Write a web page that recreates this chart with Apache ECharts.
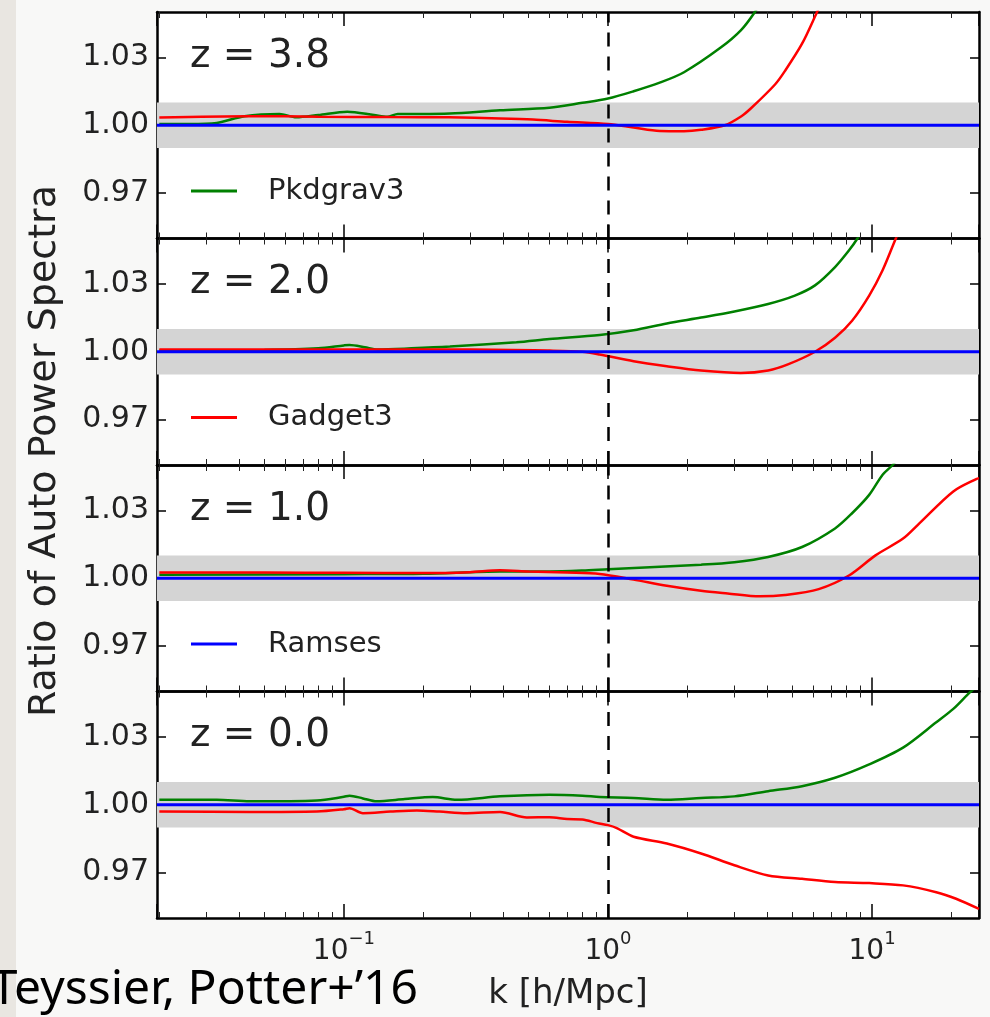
<!DOCTYPE html>
<html>
<head>
<meta charset="utf-8">
<script src="https://cdn.jsdelivr.net/npm/echarts@6/dist/echarts.min.js"></script>
<style>
  html, body { margin: 0; padding: 0; background: #f8f8f7; }
  #main { width: 990px; height: 1017px; }
</style>
</head>
<body>
<div id="main"></div>
<script>
// panel labels / axis ticks
const panelTitles = ['z = 3.8', 'z = 2.0', 'z = 1.0', 'z = 0.0'];
const yTicks = [0.97, 1.00, 1.03];
const kRange = [0.0196, 25.4];

// z = 3.8
const pk38K = [0.02, 0.026, 0.033, 0.042, 0.057, 0.066, 0.08, 0.103, 0.13, 0.146, 0.16, 0.194, 0.252, 0.39, 0.6, 0.8, 1.0, 1.25, 1.57, 1.94, 2.68, 3.19, 3.6, 3.8];
const pk38V = [1.0005, 1.0005, 1.001, 1.004, 1.005, 1.0035, 1.0045, 1.006, 1.0045, 1.0037, 1.005, 1.005, 1.0052, 1.0066, 1.0077, 1.0099, 1.0118, 1.015, 1.0188, 1.0234, 1.0344, 1.042, 1.05, 1.055];
const ga38K = [0.02, 0.044, 0.08, 0.15, 0.25, 0.39, 0.52, 0.7, 1.0, 1.25, 1.57, 1.94, 2.25, 2.77, 3.2, 3.48, 4.29, 4.68, 5.43, 6.19, 6.6];
const ga38V = [1.0034, 1.004, 1.0038, 1.0036, 1.0035, 1.003, 1.0025, 1.0015, 1.0005, 0.999, 0.9975, 0.9974, 0.998, 1.000, 1.004, 1.0075, 1.018, 1.024, 1.036, 1.05, 1.057];

// z = 2.0
const pk20K = [0.02, 0.05, 0.08, 0.1, 0.105, 0.12, 0.134, 0.18, 0.252, 0.45, 0.6, 0.93, 1.25, 1.67, 2.25, 3.01, 4.04, 5.1, 6.08, 7.24, 8.18, 8.8, 9.3];
const pk20V = [1.0005, 1.0008, 1.0015, 1.0028, 1.003, 1.002, 1.001, 1.0015, 1.0023, 1.0042, 1.0056, 1.0074, 1.0095, 1.0125, 1.0151, 1.0178, 1.0211, 1.0248, 1.0293, 1.0374, 1.0448, 1.05, 1.055];
const ga20K = [0.02, 0.1, 0.3, 0.6, 0.8, 0.93, 1.25, 1.67, 2.25, 3.18, 4.04, 4.8, 6.08, 7.24, 8.4, 9.75, 10.96, 12.3, 13];
const ga20V = [1.001, 1.001, 1.001, 1.0005, 1.000, 0.9988, 0.9958, 0.9936, 0.9917, 0.9906, 0.9917, 0.9944, 1.000, 1.0062, 1.0137, 1.0248, 1.036, 1.05, 1.056];

// z = 1.0
const pk10K = [0.02, 0.1, 0.2, 0.39, 0.6, 0.8, 1.0, 1.44, 2.25, 3.01, 4.04, 5.43, 7.24, 8.4, 9.75, 10.96, 11.96, 12.5];
const pk10V = [1.0015, 1.0018, 1.002, 1.003, 1.003, 1.0034, 1.004, 1.0049, 1.006, 1.0071, 1.0094, 1.0138, 1.022, 1.0287, 1.0368, 1.0457, 1.05, 1.053];
const ga10K = [0.02, 0.05, 0.1, 0.2, 0.3, 0.39, 0.5, 0.7, 0.93, 1.25, 1.67, 2.25, 2.84, 3.76, 4.68, 6.28, 8.17, 10.3, 13.1, 15.1, 20.3, 24.9, 25.4];
const ga10V = [1.0025, 1.0025, 1.0024, 1.0023, 1.0027, 1.0035, 1.003, 1.0025, 1.0019, 0.9994, 0.9967, 0.9945, 0.9933, 0.992, 0.9926, 0.9952, 1.0012, 1.0101, 1.0175, 1.0242, 1.0383, 1.0439, 1.0442];

// z = 0.0
const pk00K = [0.02, 0.033, 0.044, 0.079, 0.1, 0.105, 0.118, 0.133, 0.17, 0.217, 0.268, 0.39, 0.6, 0.8, 0.93, 1.25, 1.67, 2.25, 3.01, 4.04, 5.43, 7.24, 9.75, 13.1, 17.5, 20.3, 23.5, 25.4];
const pk00V = [1.0022, 1.0022, 1.0015, 1.0019, 1.0035, 1.004, 1.0028, 1.0015, 1.0025, 1.0034, 1.0022, 1.0037, 1.0044, 1.004, 1.0034, 1.003, 1.0022, 1.003, 1.0037, 1.006, 1.0082, 1.0119, 1.0178, 1.0252, 1.0364, 1.0423, 1.0497, 1.053];
const ga00K = [0.02, 0.044, 0.079, 0.1, 0.105, 0.118, 0.15, 0.189, 0.23, 0.292, 0.39, 0.493, 0.6, 0.7, 0.8, 0.91, 1.0, 1.08, 1.25, 1.67, 2.25, 3.01, 4.04, 5.43, 7.24, 9.75, 13.1, 17.5, 20.8, 25.4];
const ga00V = [0.997, 0.9968, 0.997, 0.998, 0.9985, 0.9963, 0.997, 0.9975, 0.997, 0.9963, 0.9968, 0.9944, 0.9945, 0.9937, 0.9935, 0.9919, 0.991, 0.9897, 0.9859, 0.9829, 0.9785, 0.9733, 0.9688, 0.9673, 0.9659, 0.9654, 0.9644, 0.9614, 0.9585, 0.954];

// Ramses is the reference run
const raK = [0.0196, 25.4];
const raV = [1.0, 1.0];
const band = [0.99, 1.01];

const pkd = [[pk38K, pk38V], [pk20K, pk20V], [pk10K, pk10V], [pk00K, pk00V]];
const gad = [[ga38K, ga38V], [ga20K, ga20V], [ga10K, ga10V], [ga00K, ga00V]];
const legendNames = ['Pkdgrav3', 'Gadget3', 'Ramses'];
const colors = { Pkdgrav3: '#008000', Gadget3: '#ff0000', Ramses: '#0000ff' };

function zip(k, v) { return k.map((x, i) => [x, v[i]]); }

const L = 157, R = 11, T = 12, H = 226.5;
const FONT = 'DejaVu Sans';
let grids = [], xAxes = [], yAxes = [], series = [], legends = [], graphics = [];

for (let i = 0; i < 4; i++) {
  grids.push({ left: L, right: R, top: T + i * H, height: H, show: true, backgroundColor: '#fff', borderWidth: 0, outerBoundsMode: 'none' });

  ['bottom', 'top'].forEach(function (pos) {
    xAxes.push({
      type: 'log', logBase: 10, gridIndex: i, position: pos,
      min: kRange[0], max: kRange[1],
      axisLine: { show: true, onZero: false, lineStyle: { color: '#000', width: 2.5 } },
      axisTick: { show: true, inside: true, length: 14, lineStyle: { color: '#000', width: 1.5 } },
      minorTick: { show: true, splitNumber: 9, length: 6, lineStyle: { color: '#222', width: 1 } },
      splitLine: { show: false },
      axisLabel: {
        show: i === 3 && pos === 'bottom', margin: 12,
        formatter: function (v) {
          const e = Math.log10(v), r = Math.round(e);
          if (Math.abs(e - r) > 1e-6) return '';
          return '{b|10}{s|' + (r < 0 ? '\u2212' + (-r) : r) + '}';
        },
        rich: {
          b: { fontFamily: FONT, fontSize: 28, color: '#222', lineHeight: 36, verticalAlign: 'bottom' },
          s: { fontFamily: FONT, fontSize: 18, color: '#222', lineHeight: 18, verticalAlign: 'top' }
        }
      },
      name: (i === 3 && pos === 'bottom') ? 'k [h/Mpc]' : '',
      nameLocation: 'middle', nameGap: 59,
      nameTextStyle: { fontFamily: FONT, fontSize: 34, color: '#222' }
    });
  });

  ['left', 'right'].forEach(function (pos) {
    yAxes.push({
      type: 'value', gridIndex: i, position: pos, min: 0.95, max: 1.05,
      axisLine: { show: true, onZero: false, lineStyle: { color: '#000', width: 2.5 } },
      axisTick: { show: true, inside: true, length: 9, customValues: yTicks, lineStyle: { color: '#000', width: 1.5 } },
      splitLine: { show: false },
      axisLabel: {
        show: pos === 'left', customValues: yTicks, margin: 8,
        fontFamily: FONT, fontSize: 30, color: '#222',
        formatter: function (v) { return v.toFixed(2); }
      }
    });
  });

  const xi = i * 2, yi = i * 2;
  // grey +/-1% band
  series.push({
    type: 'line', xAxisIndex: xi, yAxisIndex: yi, z: 1, silent: true,
    data: zip(raK, raV), showSymbol: false, lineStyle: { width: 0, opacity: 0 },
    markArea: { silent: true, itemStyle: { color: '#d4d4d4' }, data: [[{ yAxis: band[0] }, { yAxis: band[1] }]] }
  });
  series.push({
    name: 'Pkdgrav3', type: 'line', xAxisIndex: xi, yAxisIndex: yi, z: 3,
    data: zip(pkd[i][0], pkd[i][1]), showSymbol: false, smooth: 0.3,
    lineStyle: { color: colors.Pkdgrav3, width: 2.5 }, itemStyle: { color: colors.Pkdgrav3 }
  });
  series.push({
    name: 'Gadget3', type: 'line', xAxisIndex: xi, yAxisIndex: yi, z: 3,
    data: zip(gad[i][0], gad[i][1]), showSymbol: false, smooth: 0.3,
    lineStyle: { color: colors.Gadget3, width: 2.5 }, itemStyle: { color: colors.Gadget3 }
  });
  series.push({
    name: 'Ramses', type: 'line', xAxisIndex: xi, yAxisIndex: yi, z: 4,
    data: zip(raK, raV), showSymbol: false,
    lineStyle: { color: colors.Ramses, width: 3 }, itemStyle: { color: colors.Ramses },
    markLine: {
      silent: true, symbol: ['none', 'none'], label: { show: false },
      lineStyle: { color: '#000', type: [14, 10], width: 2.5 },
      data: [{ xAxis: 1 }]
    }
  });

  graphics.push({
    type: 'text', left: 190, top: T + i * H + 25,
    style: { text: panelTitles[i], fontFamily: FONT, fontSize: 39, fill: '#222' }
  });

  if (i < 3) {
    legends.push({
      data: [legendNames[i]], left: 191, top: T + i * H + 164, padding: 0,
      icon: 'rect', itemWidth: 46, itemHeight: 3, selectedMode: false,
      formatter: '{a|{name}}',
      textStyle: {
        fontFamily: FONT, fontSize: 29, color: '#222', lineHeight: 30,
        rich: { a: { fontFamily: FONT, fontSize: 29, color: '#222', lineHeight: 30, padding: [0, 0, 0, 26] } }
      }
    });
  }
}

graphics.push({ type: 'rect', left: 0, top: 0, z: -1, shape: { width: 16, height: 1017 }, style: { fill: '#e9e6e1' } });
graphics.push({
  type: 'text', x: 45, y: 451, rotation: Math.PI / 2,
  style: { text: 'Ratio of Auto Power Spectra', fontFamily: FONT, fontSize: 38, fill: '#222', align: 'center', verticalAlign: 'middle' }
});
graphics.push({
  type: 'text', x: 418, y: 990,
  style: { text: 'Teyssier, Potter+\u201916', fontFamily: 'Noto Sans', fontSize: 48, fill: '#000', align: 'right', verticalAlign: 'middle' }
});

const chart = echarts.init(document.getElementById('main'));
chart.setOption({
  backgroundColor: '#f8f8f7',
  animation: false,
  grid: grids,
  xAxis: xAxes,
  yAxis: yAxes,
  legend: legends,
  graphic: graphics,
  series: series
});
window.onresize = chart.resize;
</script>
</body>
</html>
